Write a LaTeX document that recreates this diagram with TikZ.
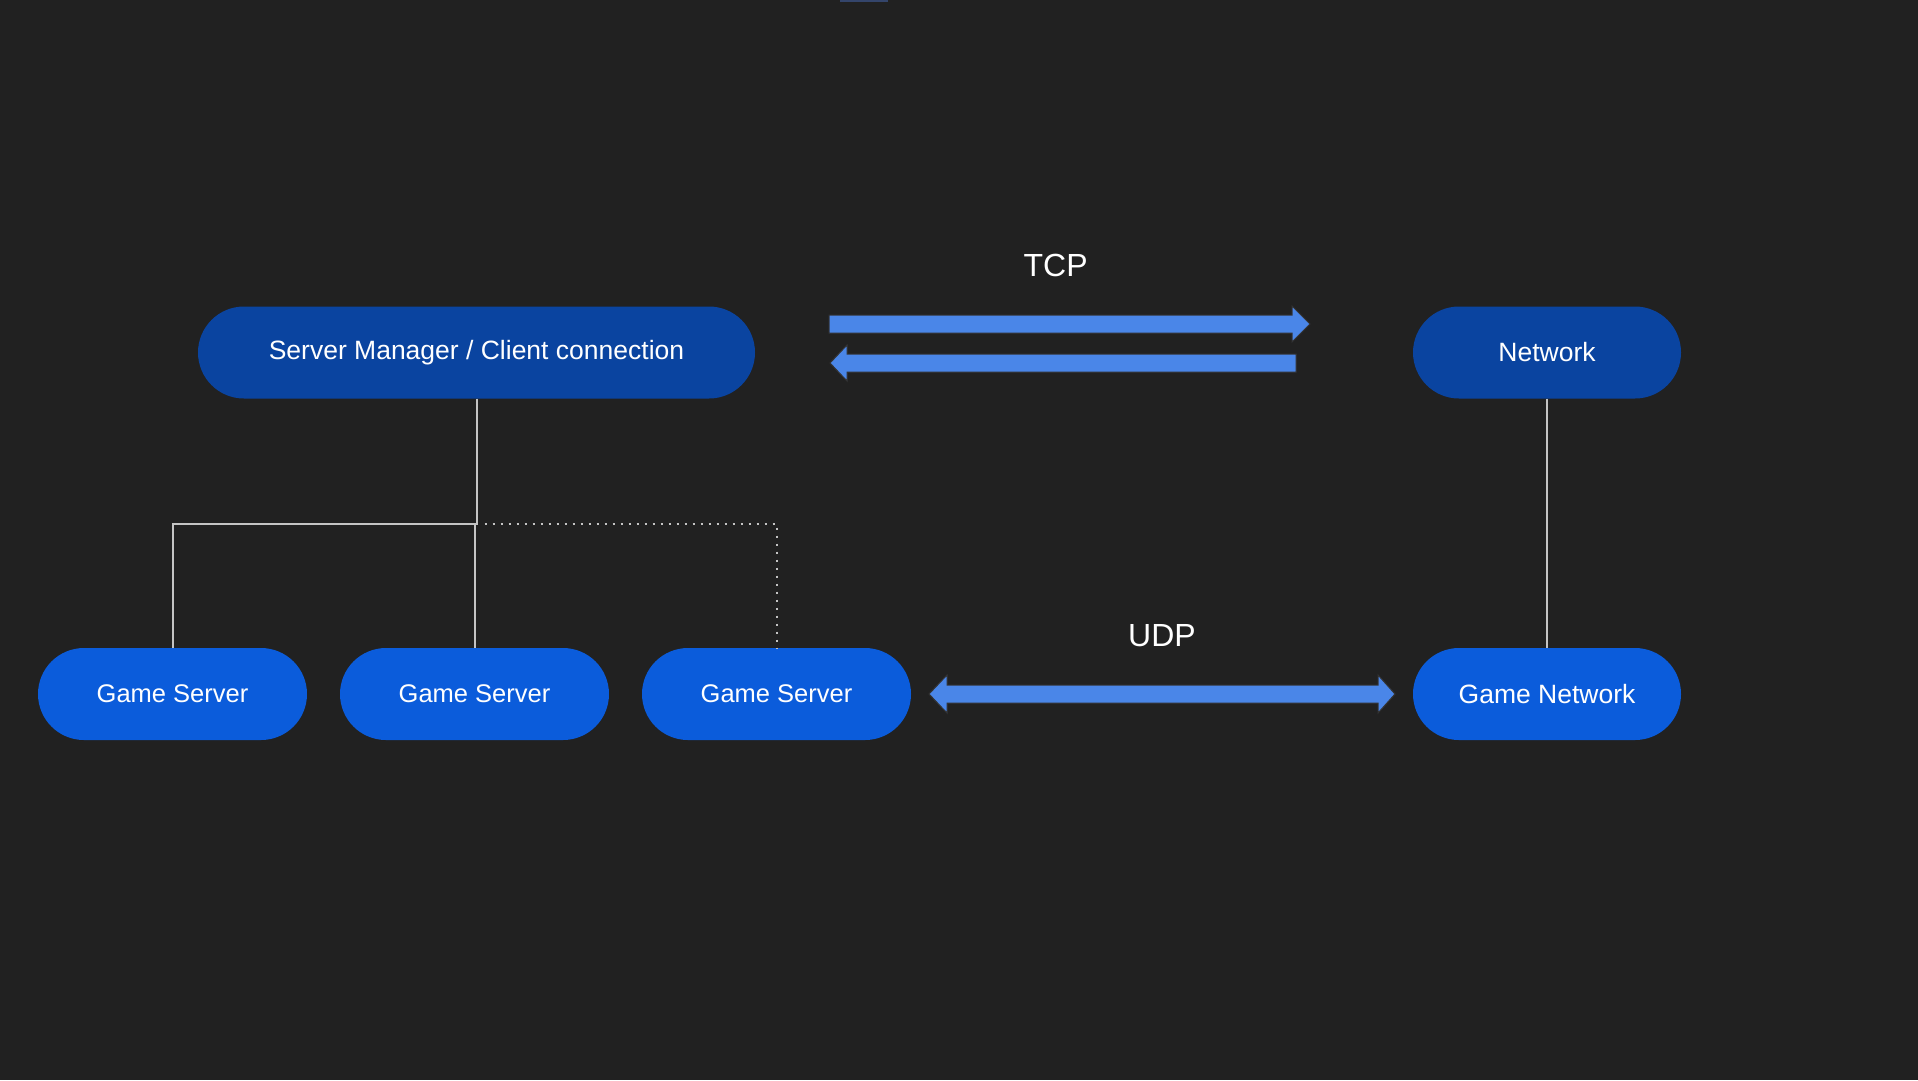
\documentclass[tikz,border=0pt]{standalone}
\usepackage{fontspec}
\setmainfont{Liberation Sans}
\definecolor{bg}{HTML}{212121}
\definecolor{darknode}{HTML}{0A44A0}
\definecolor{lightnode}{HTML}{0B5CDB}
\definecolor{arrowfill}{HTML}{4A86E8}
\definecolor{linegray}{HTML}{C4C4C4}
\definecolor{topbar}{HTML}{34456B}
\tikzset{
  pill/.style={rectangle, rounded corners=46pt, minimum height=92pt, inner sep=0pt,
    text=white, font=\fontsize{26.5}{30}\selectfont},
  mgr/.style={pill, fill=darknode},
  game/.style={pill, fill=lightnode},
  wire/.style={draw=linegray, line width=2pt},
  dotwire/.style={draw=linegray, line width=2pt, dash pattern=on 2pt off 6pt},
  fatarrow/.style={fill=arrowfill, draw=black!80, line width=1pt, line join=miter},
  proto/.style={text=white, font=\fontsize{32}{38}\selectfont}
}
\begin{document}
\begin{tikzpicture}[x=1pt,y=-1pt]
\fill[bg] (0,0) rectangle (1918,1080);
\useasboundingbox (0,0) rectangle (1918,1080);
\fill[topbar] (840,0) rectangle (888,1.6);

% nodes
\node[mgr, minimum width=557pt] (sm) at (476.5,352.5) {\raisebox{-2pt}{Server Manager / Client connection}};
\node[mgr, minimum width=268pt] (net) at (1547,352.5) {Network};
\node[game, minimum width=269pt, font=\fontsize{25.5}{30}\selectfont] (gs1) at (172.5,694) {\raisebox{-1pt}{Game Server}};
\node[game, minimum width=269pt, font=\fontsize{25.5}{30}\selectfont] (gs2) at (474.5,694) {\raisebox{-1pt}{Game Server}};
\node[game, minimum width=269pt, font=\fontsize{25.5}{30}\selectfont] (gs3) at (776.5,694) {\raisebox{-1pt}{Game Server}};
\node[game, minimum width=268pt] (gn) at (1547,694) {Game Network};

% connectors
\coordinate (jy) at (0,523.5);
\draw[wire] (sm.south) -- (sm.south |- jy) -| (gs1.north);
\draw[wire] (gs2.north) -- (gs2.north |- jy);
\draw[dotwire] ([xshift=8pt]sm.south |- jy) -| (gs3.north);
\draw[wire] (net.south) -- (gn.north);

% TCP arrows
\node[proto] (tcp) at (1055.6,265) {TCP};
\draw[fatarrow] (829,315) -- (1292,315) -- (1292,306) -- (1310,324) -- (1292,342) -- (1292,333) -- (829,333) -- cycle;
\draw[fatarrow] (1296,354) -- (847,354) -- (847,345) -- (830,363) -- (847,381) -- (847,372) -- (1296,372) -- cycle;

% UDP arrow
\node[proto] (udp) at (1162,636) {UDP};
\draw[fatarrow] (929,694) -- (947,675) -- (947,685) -- (1378,685) -- (1378,675) -- (1395,694) -- (1378,713) -- (1378,703) -- (947,703) -- (947,713) -- cycle;
\end{tikzpicture}
\end{document}
